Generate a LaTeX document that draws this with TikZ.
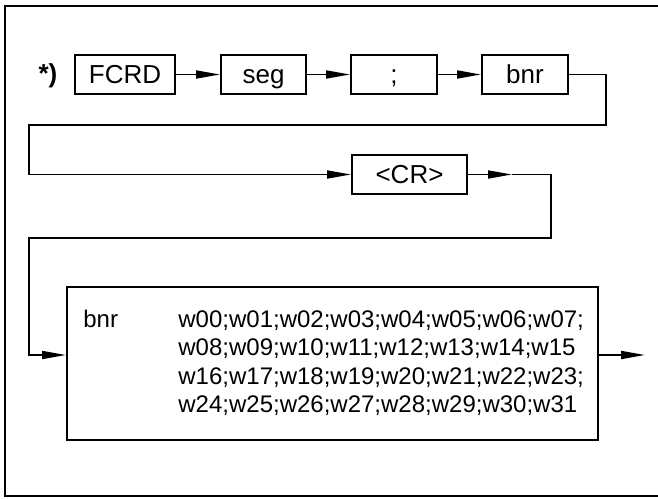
\documentclass[tikz,border=0pt]{standalone}
\usepackage{fontspec}
\setmainfont{Liberation Sans}
\usetikzlibrary{arrows.meta, positioning, calc}

\begin{document}
\begin{tikzpicture}[x=0.5pt, y=-0.5pt,
  txt/.style={font=\fontsize{12}{14.25}\selectfont},
  box/.style={draw, line width=1pt, minimum height=19.5pt, inner sep=0pt,
    font=\fontsize{13}{15}\selectfont, text height=9.5pt, text depth=1pt},
  wire/.style={line width=0.9pt},
  arr/.style={-{Triangle[length=12pt, width=4pt]}}]
  \useasboundingbox (0,0) rectangle (658,498);

  % Outer frame, open on the right
  \draw[line width=0.75pt] (658,6) -- (5,6) -- (5,496) -- (658,496);

  % Command row
  \node[font=\fontsize{13}{15}\selectfont\bfseries] (star) at (48,76) {*)};
  \node[box, minimum width=50pt] (fcrd) at (125,74.5) {FCRD};
  \node[box, minimum width=42.5pt] (seg) at (263.5,74.5) {seg};
  \node[box, minimum width=43pt] (semi) at (394,74.5) {;};
  \node[box, minimum width=43pt] (bnr) at (525,74.5) {bnr};

  \draw[wire, arr] (fcrd) -- (seg);
  \draw[wire, arr] (seg) -- (semi);
  \draw[wire, arr] (semi) -- (bnr);

  % Terminator
  \node[box, minimum width=57.5pt] (cr) at (409.5,174.5) {<CR>};

  \coordinate (k1) at (606,125);
  \coordinate (k2) at (29,125);
  \draw[wire, arr] (bnr.east) -| (k1) -- (k2) |- (cr.west);

  % Answer block
  \node[draw, line width=1pt, minimum width=265.5pt, minimum height=76.5pt] (data) at (332.5,363.5) {};
  \node[txt, anchor=base west, inner sep=0pt] (dlabel) at (83,327) {bnr};
  \node[txt, anchor=base west, inner sep=0pt, align=left] (dwords) at (178,412.5) {
    w00;w01;w02;w03;w04;w05;w06;w07;\\
    w08;w09;w10;w11;w12;w13;w14;w15\\
    w16;w17;w18;w19;w20;w21;w22;w23;\\
    w24;w25;w26;w27;w28;w29;w30;w31
  };

  \coordinate (t1) at (512,174.5);
  \coordinate (k3) at (551,238);
  \coordinate (k4) at (29,238);
  \coordinate (out) at (645,355);
  \draw[wire, arr] (cr.east) -- (t1);
  \draw[wire, arr] (t1) -| (k3) -- (k4) |- ([yshift=4.25pt]data.west);
  \draw[wire, arr] ([yshift=4.25pt]data.east) -- (out);
\end{tikzpicture}
\end{document}
